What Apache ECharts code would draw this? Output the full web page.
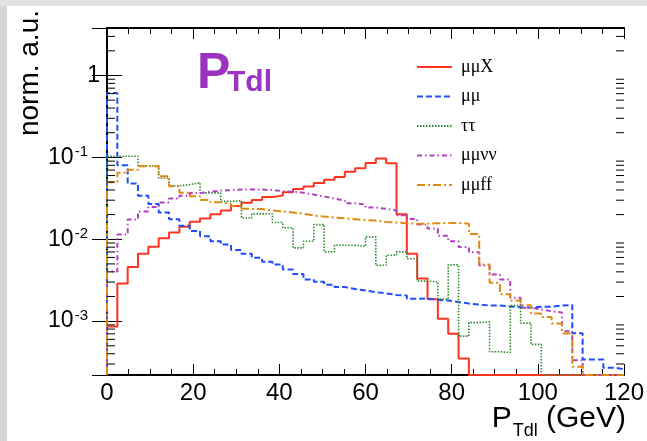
<!DOCTYPE html>
<html><head><meta charset="utf-8">
<script src="https://cdn.jsdelivr.net/npm/echarts@6/dist/echarts.min.js"></script>
<style>html,body{margin:0;padding:0;background:#fff}#c{width:647px;height:441px}</style>
</head><body><div id="c"></div>
<script>
// ---- data (50 bins of 2.4 GeV from 0 to 120) ----
const BIN_WIDTH = 2.4;
const X_MIN = 0, X_MAX = 120, X_INTERVAL = 20;
const Y_MIN = 2.2e-4, Y_MAX = 3.8;
const yTickValues = [1e-3, 1e-2, 1e-1, 1];
const yTickBase = ['10', '10', '10', '1'];
const yTickSup = ['-3', '-2', '-1', ''];
const seriesNames = ['μμX', 'μμ', 'ττ', 'μμνν', 'μμff'];

const muMuX = [8.6e-4, 2.88e-3, 4.58e-3, 6.64e-3, 8.08e-3, 0.0103, 0.0121, 0.0142, 0.0164, 0.0179,
  0.0202, 0.0224, 0.0254, 0.0279, 0.0302, 0.0329, 0.0341, 0.0374, 0.041, 0.0442,
  0.0485, 0.0532, 0.0577, 0.0666, 0.0734, 0.0855, 0.097, 0.085, 0.0202, 0.00664,
  0.00332, 0.00185, 0.00107, 0.0007, 0.00035, 0, 0, 0, 0, 0,
  0, 0, 0, 0, 0, 0, 0, 0, 0, 0];
const muMu = [0.61, 0.080, 0.048, 0.034, 0.027, 0.0212, 0.0175, 0.0146, 0.0126, 0.0109,
  0.00946, 0.00861, 0.0074, 0.00664, 0.00593, 0.0053, 0.00491, 0.00427, 0.00376, 0.00323,
  0.00303, 0.00279, 0.00261, 0.00247, 0.00237, 0.00226, 0.00218, 0.00209, 0.00206, 0.00188,
  0.00189, 0.00182, 0.00179, 0.00171, 0.00164, 0.0016, 0.00155, 0.00155, 0.00151, 0.00148,
  0.00146, 0.0015, 0.0015, 0.00155, 0.00158, 0.00071, 0.00034, 0.00034, 0.00027, 0.00026];
const tauTau = [0.103, 0.103, 0.103, 0.079, 0.079, 0.056, 0.045, 0.0465, 0.0491, 0.0368,
  0.0368, 0.029, 0.0296, 0.0182, 0.0204, 0.0205, 0.016, 0.0138, 0.00785, 0.00946,
  0.0151, 0.00702, 0.00845, 0.00843, 0.00822, 0.0107, 0.00482, 0.00638, 0.00702, 0.00577,
  0.00308, 0.00302, 0.00186, 0.00487, 0.000656, 0.00096, 0.00098, 0.000423, 0.000415, 0.00155,
  0.000946, 0.00052, 0, 0, 0, 0, 0, 0, 0, 0];
const muMuNuNu = [0.00404, 0.0114, 0.0174, 0.0218, 0.0247, 0.0281, 0.0314, 0.0341, 0.0366, 0.0382,
  0.0393, 0.0398, 0.0404, 0.0404, 0.0404, 0.0398, 0.0387, 0.0379, 0.0371, 0.0351,
  0.0332, 0.0314, 0.0297, 0.0276, 0.0265, 0.0244, 0.0235, 0.0224, 0.0197, 0.0177,
  0.0151, 0.0135, 0.011, 0.00946, 0.00803, 0.00693, 0.00478, 0.00371, 0.00323, 0.00193,
  0.00146, 0.00139, 0.00132, 0.00128, 0.000755, 0.000332, 0, 0, 0, 0];
const muMuFF = [0.0496, 0.065, 0.0708, 0.0781, 0.0781, 0.059, 0.0443, 0.0371, 0.0336, 0.0301,
  0.0283, 0.0269, 0.0254, 0.0235, 0.0234, 0.0224, 0.0219, 0.0212, 0.0205, 0.0195,
  0.0189, 0.0184, 0.018, 0.0176, 0.0171, 0.0169, 0.0163, 0.016, 0.0157, 0.0155,
  0.0155, 0.0157, 0.0158, 0.0158, 0.0155, 0.0116, 0.00491, 0.00294, 0.00213, 0.00179,
  0.00156, 0.00124, 0.00112, 0.000937, 0.000708, 0.000278, 0, 0, 0, 0];

// ---- styles ----
const seriesData = [muMuX, muMu, tauTau, muMuNuNu, muMuFF];
const seriesColors = ['#ff3322', '#1f4cff', '#2e8b2e', '#b040c0', '#e08a10'];
const seriesDash = ['solid', [6, 3], [1.5, 1.5], [5, 3, 1.5, 3], [8, 3, 2, 3]];
const seriesWidth = [2, 2, 1.6, 2, 2];
const FONT = '"Liberation Sans", Helvetica, Arial, sans-serif';

function histPoints(vals) {
  const clamp = v => (v > 0 ? v : Y_MIN);
  const pts = [[X_MIN, Y_MIN]];
  vals.forEach((v, i) => pts.push([X_MIN + i * BIN_WIDTH, clamp(v)]));
  pts.push([X_MIN + vals.length * BIN_WIDTH, clamp(vals[vals.length - 1])]);
  return pts;
}

const yMinorTicks = [];
for (let e = -4; e <= 0; e++) for (let m = 2; m <= 9; m++) {
  const v = m * Math.pow(10, e);
  if (v > Y_MIN && v < Y_MAX) yMinorTicks.push(v);
}

function yLabel(v) {
  const i = yTickValues.findIndex(t => Math.abs(Math.log10(t) - Math.log10(v)) < 1e-6);
  if (i < 0) return '';
  if (!yTickSup[i]) return '{b|' + yTickBase[i] + '}';
  return '{b|' + yTickBase[i] + '}{s|' + yTickSup[i] + '}';
}

// text measuring for the x-axis title pieces
const mctx = document.createElement('canvas').getContext('2d');
function textW(t, size) { mctx.font = size + 'px ' + FONT; return mctx.measureText(t).width; }
const XT_RIGHT = 626, XT_MID = 419, XT_SIZE = 30, XT_SUB = 18;
const wGeV = textW(' (GeV)', XT_SIZE), wSub = textW('Tdl', XT_SUB);

const axisCommonX = {
  type: 'value', min: X_MIN, max: X_MAX, interval: X_INTERVAL,
  axisLine: { show: true, lineStyle: { color: '#000', width: 2 } },
  axisTick: { show: true, inside: true, length: 11, lineStyle: { color: '#000', width: 1 } },
  minorTick: { show: true, splitNumber: 4, length: 6, lineStyle: { color: '#000', width: 1 } },
  splitLine: { show: false }, minorSplitLine: { show: false }
};
const axisCommonY = {
  type: 'log', logBase: 10, min: Y_MIN, max: Y_MAX,
  axisLine: { show: true, lineStyle: { color: '#000', width: 2 } },
  axisTick: { show: true, inside: true, length: 15, lineStyle: { color: '#000', width: 1 } },
  splitLine: { show: false }
};

const chart = echarts.init(document.getElementById('c'), null, { renderer: 'canvas' });
const option = {
  backgroundColor: '#ffffff',
  animation: false,
  grid: { left: 107, right: 21, top: 28, bottom: 66, containLabel: false },
  xAxis: [
    Object.assign({}, axisCommonX, {
      position: 'bottom',
      axisLabel: { show: true, color: '#000', fontSize: 24, fontFamily: FONT, margin: 6 }
    }),
    Object.assign({}, axisCommonX, { position: 'top', axisLabel: { show: false } })
  ],
  yAxis: [
    Object.assign({}, axisCommonY, {
      position: 'left',
      axisLabel: {
        show: true, margin: 7, showMinLabel: false, showMaxLabel: false,
        formatter: yLabel,
        rich: {
          b: { fontSize: 23, fontFamily: FONT, color: '#000', lineHeight: 26 },
          s: { fontSize: 15, fontFamily: FONT, color: '#000', lineHeight: 15, verticalAlign: 'top', padding: [0, 12, 0, 1] }
        }
      }
    }),
    Object.assign({}, axisCommonY, { position: 'right', axisLabel: { show: false } })
  ],
  legend: {
    data: seriesNames,
    orient: 'vertical', left: 411, top: 53,
    itemWidth: 35, itemHeight: 14, itemGap: 11.5,
    itemStyle: { color: 'rgba(0,0,0,0)', borderColor: 'rgba(0,0,0,0)', borderWidth: 0, opacity: 0 },
    textStyle: { fontSize: 18, color: '#000', fontFamily: '"Liberation Serif", "DejaVu Serif", serif', lineHeight: 14, padding: [0, 0, 0, 4] },
    selectedMode: false
  },
  graphic: [
    { type: 'rect', shape: { x: 0, y: 0, width: 7, height: 441 }, style: { fill: '#d6d6d6' }, z: -10 },
    { type: 'rect', shape: { x: 0, y: 0, width: 647, height: 6 }, style: { fill: '#e2e2e2' }, z: -10 },
    { type: 'text', x: 197, y: 74, style: { text: 'P', fontSize: 50, fontWeight: 'bold', fontFamily: FONT, fill: '#9b32c2', verticalAlign: 'middle', textVerticalAlign: 'middle' } },
    { type: 'text', x: 227, y: 83, style: { text: 'Tdl', fontSize: 30, fontWeight: 'bold', fontFamily: FONT, fill: '#9b32c2', verticalAlign: 'middle', textVerticalAlign: 'middle' } },
    { type: 'text', x: 30, y: 10, rotation: Math.PI / 2,
      style: { text: 'norm. a.u.', fontSize: 28, fontFamily: FONT, fill: '#000', align: 'right', textAlign: 'right', verticalAlign: 'middle', textVerticalAlign: 'middle' } },
    { type: 'text', x: XT_RIGHT, y: XT_MID,
      style: { text: ' (GeV)', fontSize: XT_SIZE, fontFamily: FONT, fill: '#000', align: 'right', textAlign: 'right', verticalAlign: 'middle', textVerticalAlign: 'middle' } },
    { type: 'text', x: XT_RIGHT - wGeV, y: XT_MID + 12,
      style: { text: 'Tdl', fontSize: XT_SUB, fontFamily: FONT, fill: '#000', align: 'right', textAlign: 'right', verticalAlign: 'middle', textVerticalAlign: 'middle' } },
    { type: 'text', x: XT_RIGHT - wGeV - wSub - 1, y: XT_MID,
      style: { text: 'P', fontSize: XT_SIZE, fontFamily: FONT, fill: '#000', align: 'right', textAlign: 'right', verticalAlign: 'middle', textVerticalAlign: 'middle' } }
  ],
  series: seriesData.map((vals, k) => ({
    name: seriesNames[k], type: 'line', step: 'end',
    xAxisIndex: 0, yAxisIndex: 0,
    data: histPoints(vals), symbol: 'none', showSymbol: false,
    lineStyle: { color: seriesColors[k], width: seriesWidth[k], type: seriesDash[k] },
    itemStyle: { color: seriesColors[k] },
    z: 3 + k, clip: true, silent: true
  })).concat([{
    name: 'yMinor', type: 'custom', xAxisIndex: 0, yAxisIndex: 0, silent: true, clip: false, z: 10,
    data: yMinorTicks.map(v => [X_MIN, v]),
    encode: { x: 0, y: 1 },
    renderItem: (params, api) => {
      const v = api.value(1);
      const pL = api.coord([X_MIN, v]);
      const pR = api.coord([X_MAX, v]);
      return { type: 'group', children: [
        { type: 'line', shape: { x1: pL[0], y1: pL[1], x2: pL[0] + 8, y2: pL[1] }, style: { stroke: '#000', lineWidth: 1 } },
        { type: 'line', shape: { x1: pR[0], y1: pR[1], x2: pR[0] - 8, y2: pR[1] }, style: { stroke: '#000', lineWidth: 1 } }
      ] };
    }
  }])
};
chart.setOption(option);
</script>
</body></html>
